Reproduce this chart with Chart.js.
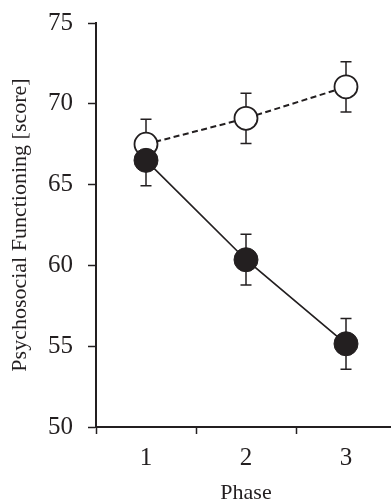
<!DOCTYPE html>
<html>
<head>
<meta charset="utf-8">
<script src="https://cdn.jsdelivr.net/npm/chart.js@4/dist/chart.umd.min.js"></script>
<style>
  html, body { margin: 0; padding: 0; background: #fff; overflow: hidden; }
  #wrap { width: 396px; height: 502px; }
</style>
</head>
<body>
<div id="wrap"><canvas id="chart" width="396" height="502"></canvas></div>
<script>
// Data
const phases = ['1', '2', '3'];
const openMeans = [67.5, 69.1, 71.05];
const openErrors = [1.55, 1.55, 1.55];
const filledMeans = [66.5, 60.35, 55.15];
const filledErrors = [1.57, 1.57, 1.57];
const yTicks = [50, 55, 60, 65, 70, 75];

const INK = '#231f20';

// Error bars drawn beneath the markers, through the chart's own scales.
const errorBarPlugin = {
  id: 'errorBars',
  beforeDatasetsDraw(chart) {
    const ctx = chart.ctx;
    const xs = chart.scales.x;
    const ys = chart.scales.y;
    ctx.save();
    ctx.strokeStyle = INK;
    ctx.lineWidth = 1.5;
    chart.data.datasets.forEach((ds) => {
      ds.data.forEach((v, i) => {
        const e = ds.errors[i];
        const px = xs.getPixelForValue(i);
        const top = ys.getPixelForValue(v + e);
        const bot = ys.getPixelForValue(v - e);
        ctx.beginPath();
        ctx.moveTo(px, top);
        ctx.lineTo(px, bot);
        ctx.moveTo(px - 5.5, top);
        ctx.lineTo(px + 5.5, top);
        ctx.moveTo(px - 5.5, bot);
        ctx.lineTo(px + 5.5, bot);
        ctx.stroke();
      });
    });
    ctx.restore();
  },
};

new Chart(document.getElementById('chart'), {
  type: 'line',
  data: {
    labels: phases,
    datasets: [
      {
        label: 'filled',
        data: filledMeans,
        errors: filledErrors,
        borderColor: INK,
        borderWidth: 1.7,
        pointBackgroundColor: INK,
        pointBorderColor: INK,
        pointBorderWidth: 1,
        pointRadius: 12,
        tension: 0,
      },
      {
        label: 'open',
        data: openMeans,
        errors: openErrors,
        borderColor: INK,
        borderWidth: 2,
        borderDash: [6, 3.5],
        pointBackgroundColor: '#ffffff',
        pointBorderColor: INK,
        pointBorderWidth: 1.8,
        pointRadius: 11.5,
        tension: 0,
      },
    ],
  },
  options: {
    responsive: false,
    animation: false,
    // markers near the edges should not push the plot area inwards
    layout: { autoPadding: false, padding: { top: 23, right: 0, bottom: 0, left: 0 } },
    plugins: {
      legend: { display: false },
      tooltip: { enabled: false },
    },
    scales: {
      x: {
        type: 'category',
        offset: true,
        grid: {
          offset: true,
          drawOnChartArea: false,
          drawTicks: true,
          tickLength: 7,
          tickWidth: 1.5,
          tickColor: INK,
        },
        border: { display: true, color: INK, width: 2 },
        ticks: {
          color: INK,
          padding: 9,
          font: { family: 'Liberation Serif', size: 25 },
        },
        title: {
          display: true,
          text: 'Phase',
          color: INK,
          padding: { top: 0, bottom: -2 },
          font: { family: 'Liberation Serif', size: 22, lineHeight: 1 },
        },
        afterFit: (scale) => {
          scale.height = 75;
          scale.paddingLeft = 0;
          scale.paddingRight = 0;
        },
      },
      y: {
        min: 50,
        max: 75,
        afterBuildTicks: (scale) => {
          scale.ticks = yTicks.map((v) => ({ value: v }));
        },
        grid: {
          drawOnChartArea: false,
          drawTicks: true,
          tickLength: 8,
          tickWidth: 1.5,
          tickColor: INK,
        },
        border: { display: true, color: INK, width: 2 },
        ticks: {
          color: INK,
          padding: 15,
          font: { family: 'Liberation Serif', size: 25 },
        },
        title: {
          display: true,
          text: 'Psychosocial Functioning [score]',
          color: INK,
          padding: { top: 7, bottom: 0 },
          font: { family: 'Liberation Serif', size: 22 },
        },
        afterFit: (scale) => {
          scale.width = 96;
          scale.paddingTop = 0;
          scale.paddingBottom = 0;
        },
      },
    },
  },
  plugins: [errorBarPlugin],
});
</script>
</body>
</html>
